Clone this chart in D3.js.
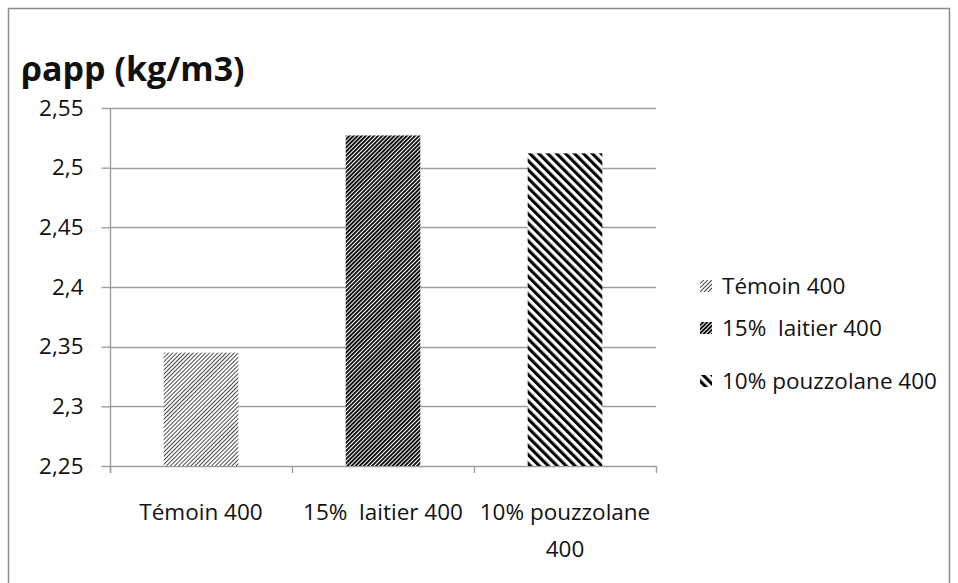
<!DOCTYPE html>
<html>
<head>
<meta charset="utf-8">
<script src="https://cdn.jsdelivr.net/npm/d3@7"></script>
<style>
  html, body { margin: 0; padding: 0; background: #fff; }
  svg { display: block; }
  text { font-family: "Open Sans", "DejaVu Sans", sans-serif; fill: #111; white-space: pre; }
</style>
</head>
<body>
<svg id="chart" width="958" height="583"></svg>
<script>
// Apparent density per mix (kg/m3)
const categories = ["Témoin 400", "15%  laitier 400", "10% pouzzolane 400"];
const categoryLines = [["Témoin 400"], ["15%  laitier 400"], ["10% pouzzolane", "400"]];
const values = [2.345, 2.527, 2.512];
const yTicks = [2.25, 2.3, 2.35, 2.4, 2.45, 2.5, 2.55];
const title = "ρapp (kg/m3)";

const svg = d3.select("#chart");
const plot = { left: 110, right: 656, top: 108, bottom: 466 };
const FS = 22.5;

// Outer chart frame
svg.append("rect")
  .attr("x", 8.5).attr("y", 8.5)
  .attr("width", 941).attr("height", 600)
  .attr("fill", "#fff").attr("stroke", "#8c8c8c").attr("stroke-width", 1.5);

// Hatch fills, one per series
const defs = svg.append("defs");
const hatches = [
  { id: "hatch0", period: 2.9, thick: 0.9, angle: 45, color: "#333" },
  { id: "hatch1", period: 2.9, thick: 1.8, angle: 45, color: "#000" },
  { id: "hatch2", period: 6.3, thick: 3.1, angle: -45, color: "#000" }
];
hatches.forEach(h => {
  const p = defs.append("pattern")
    .attr("id", h.id)
    .attr("patternUnits", "userSpaceOnUse")
    .attr("width", h.period).attr("height", 10)
    .attr("patternTransform", `rotate(${h.angle})`);
  p.append("rect").attr("width", h.period).attr("height", 10).attr("fill", "#fff");
  p.append("rect").attr("width", h.thick).attr("height", 10).attr("fill", h.color);
});

const x = d3.scaleBand().domain(categories).range([plot.left, plot.right]).padding(0);
const y = d3.scaleLinear().domain([2.25, 2.55]).range([plot.bottom, plot.top]);
const fr = d3.formatLocale({ decimal: ",", thousands: " ", grouping: [3], currency: ["", " €"] });
const fmt = fr.format(".2~f");

// Horizontal gridlines
svg.append("g").selectAll("line").data(yTicks).join("line")
  .attr("x1", plot.left).attr("x2", plot.right)
  .attr("y1", d => Math.round(y(d)) + 0.5).attr("y2", d => Math.round(y(d)) + 0.5)
  .attr("stroke", "#9e9e9e").attr("stroke-width", 1.4);

// Y axis
const yAxis = svg.append("g")
  .attr("transform", `translate(${plot.left + 0.5},0)`)
  .call(d3.axisLeft(y).tickValues(yTicks).tickFormat(fmt).tickSize(9).tickPadding(18));
yAxis.select(".domain").attr("stroke", "#9e9e9e").attr("stroke-width", 1.4)
  .attr("d", `M0,${plot.top}V${plot.bottom + 7}`);
yAxis.selectAll(".tick line").attr("stroke", "#9e9e9e").attr("stroke-width", 1.4);
yAxis.selectAll(".tick text").attr("font-size", FS).attr("fill", "#111")
  .attr("font-family", "'Open Sans', sans-serif");

// Category boundary ticks on the x axis
const bounds = categories.map(c => x(c)).concat([x(categories[categories.length - 1]) + x.bandwidth()]);
svg.append("g").selectAll("line").data(bounds).join("line")
  .attr("x1", d => Math.round(d) + 0.5).attr("x2", d => Math.round(d) + 0.5)
  .attr("y1", plot.bottom).attr("y2", plot.bottom + 7)
  .attr("stroke", "#9e9e9e").attr("stroke-width", 1.4);

// Bars
const barW = x.bandwidth() * 0.41;
svg.append("g").selectAll("rect").data(values).join("rect")
  .attr("x", (d, i) => x(categories[i]) + (x.bandwidth() - barW) / 2)
  .attr("width", barW)
  .attr("y", d => y(d))
  .attr("height", d => y(2.25) - y(d))
  .attr("fill", (d, i) => `url(#hatch${i})`);

// Category labels
const xl = svg.append("g");
categoryLines.forEach((lines, i) => {
  lines.forEach((ln, j) => {
    xl.append("text")
      .attr("x", x(categories[i]) + x.bandwidth() / 2)
      .attr("y", 520 + j * 37)
      .attr("text-anchor", "middle")
      .attr("font-size", FS)
      .text(ln);
  });
});

// Title
svg.append("text")
  .attr("x", 21).attr("y", 81)
  .attr("font-size", 34).attr("font-weight", "bold")
  .text(title);

// Legend
const lg = svg.append("g").attr("transform", "translate(700,0)");
const legendY = [286, 328, 381];
categories.forEach((c, i) => {
  lg.append("rect").attr("x", 0).attr("y", legendY[i] - 6)
    .attr("width", 12).attr("height", 12)
    .attr("fill", `url(#hatch${i})`);
  lg.append("text").attr("x", 22).attr("y", legendY[i] + 8)
    .attr("font-size", FS).text(c);
});
</script>
</body>
</html>
